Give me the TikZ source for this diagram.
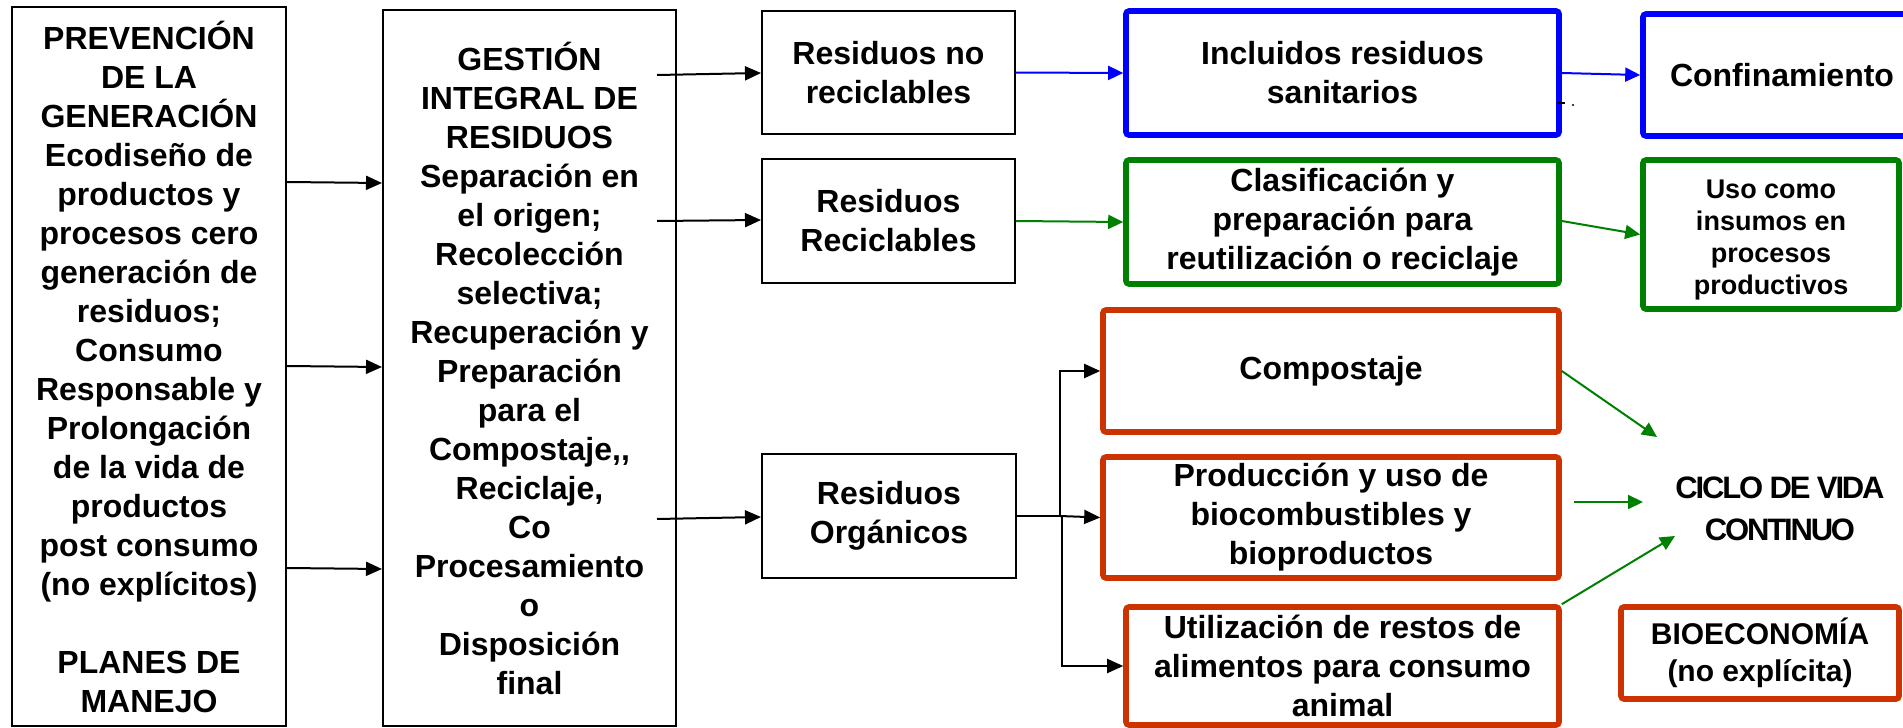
\documentclass[tikz,border=0pt]{standalone}
\usepackage{fontspec}
\setmainfont{Liberation Sans}
\newfontfamily\tightfont[LetterSpace=-7]{Liberation Sans}
\usetikzlibrary{arrows.meta}
\definecolor{cblue}{RGB}{0,0,255}
\definecolor{cgreen}{RGB}{0,128,0}
\definecolor{corange}{RGB}{204,51,0}
\begin{document}
\begin{tikzpicture}[x=0.5pt,y=-0.5pt,
  txt/.style={font=\bfseries\fontsize{16pt}{19.5pt}\selectfont, align=center},
  bbox/.style={draw=black, line width=1pt, inner sep=0pt, txt},
  cbox/.style={draw=#1, line width=2.8pt, rounded corners=1.5pt, inner sep=0pt, txt},
  arr/.style={line width=1pt, -{Triangle[length=8pt,width=7pt]}},
  carr/.style={line width=1pt, color=#1, -{Triangle[length=7.5pt,width=7pt]}}
]
\useasboundingbox (0,0) rectangle (1903,728);
\clip (0,0) rectangle (1903,728);

% left columns
\node[bbox, minimum width=137pt, minimum height=359.5pt] (b1) at (149,366.5) {PREVENCIÓN\\DE LA\\GENERACIÓN\\Ecodiseño de\\productos y\\procesos cero\\generación de\\residuos;\\Consumo\\Responsable y\\Prolongación\\de la vida de\\productos\\post consumo\\(no explícitos)\\[19.5pt]PLANES DE\\MANEJO};
\node[bbox, minimum width=146.5pt, minimum height=358pt] (b2) at (529.5,368) {GESTIÓN\\INTEGRAL DE\\RESIDUOS\\Separación en\\el origen;\\Recolección\\selectiva;\\Recuperación y\\Preparación\\para el\\Compostaje,{},\\Reciclaje,\\Co\\Procesamiento\\o\\Disposición\\final};

% residue type boxes
\node[bbox, minimum width=126.5pt, minimum height=61.5pt] (r1) at (888.5,72.5) {Residuos no\\reciclables};
\node[bbox, minimum width=126.5pt, minimum height=62pt] (r2) at (888.5,221) {Residuos\\Reciclables};
\node[bbox, minimum width=127pt, minimum height=62pt] (r3) at (889,516) {Residuos\\Orgánicos};

% coloured boxes
\node[cbox=cblue, minimum width=216.5pt, minimum height=62pt] (inc) at (1342.5,73) {Incluidos residuos\\sanitarios};
\node[cbox=cgreen, minimum width=216.5pt, minimum height=62pt] (clas) at (1342.5,222) {Clasificación y\\preparación para\\reutilización o reciclaje};
\node[cbox=cblue, minimum width=139pt, minimum height=61pt] (conf) at (1782,75) {Confinamiento};
\node[cbox=cgreen, minimum width=128pt, minimum height=74.5pt, font=\bfseries\fontsize{13.5pt}{16pt}\selectfont] (uso) at (1771,234.5) {\rule{0pt}{15pt}Uso como\\insumos en\\procesos\\productivos};
\node[cbox=corange, minimum width=228pt, minimum height=61pt] (comp) at (1331,371) {Compostaje};
\node[cbox=corange, minimum width=228pt, minimum height=60.5pt] (prod) at (1331,517.5) {Producción y uso de\\biocombustibles y\\bioproductos};
\node[cbox=corange, minimum width=216.5pt, minimum height=59pt] (util) at (1342.5,666) {Utilización de restos de\\alimentos para consumo\\animal};
\node[cbox=corange, minimum width=139pt, minimum height=46pt, font=\bfseries\fontsize{15pt}{18.5pt}\selectfont] (bio) at (1760,653) {BIOECONOMÍA\\(no explícita)};
\node[align=center, inner sep=0pt, font=\tightfont\bfseries\fontsize{15.5pt}{21pt}\selectfont] (ciclo) at (1780,509) {CICLO DE VIDA\\CONTINUO};

% connectors left
\draw[arr] (b1.east |- 0,182) -- (b2.west |- 0,183);
\draw[arr] (b1.east |- 0,366) -- (b2.west |- 0,367);
\draw[arr] (b1.east |- 0,568) -- (b2.west |- 0,569);

\coordinate (g1) at (657,75);
\coordinate (g2) at (657,221);
\coordinate (g3) at (657,519);
\draw[arr] (g1) -- (r1.west |- 0,73);
\draw[arr] (g2) -- (r2.west |- 0,220);
\draw[arr] (g3) -- (r3.west |- 0,517);

% coloured connectors
\draw[carr=cblue] (r1.east) -- (inc.west);
\draw[carr=cblue] (inc.east) -- (conf.west);
\draw[carr=cgreen] (r2.east) -- (clas.west);
\draw[carr=cgreen] (clas.east |- 0,221) -- (uso.west);

% organic branches
\draw[arr] (r3.east) -- (1060,516) coordinate (j) |- (comp.west);
\draw[arr] (j) -- (prod.west);
\draw[arr] (1062,516) |- (util.west);

% to ciclo
\coordinate (c1) at (1657,437);
\coordinate (c2s) at (1574,502);
\coordinate (c2) at (1643,502);
\coordinate (c3) at (1675,536);
\draw[carr=cgreen] (comp.east) -- (c1);
\draw[carr=cgreen] (c2s) -- (c2);
\draw[carr=cgreen] (util.north east) -- (c3);

% small marks
\draw[line width=0.8pt] (1557,103) -- (1565,103);
\fill (1573,105) circle (0.6pt);
\end{tikzpicture}
\end{document}
